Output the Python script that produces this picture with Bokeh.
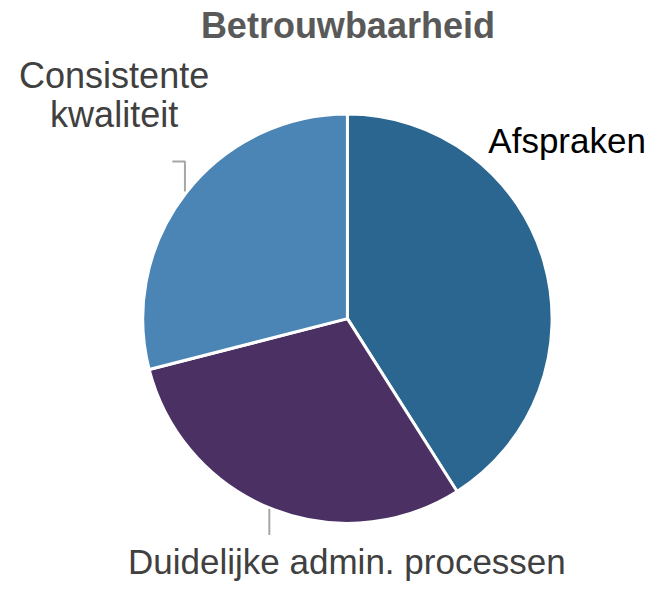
import numpy as np
from bokeh.plotting import figure
from bokeh.models import Range1d, ColumnDataSource
from bokeh.core.properties import value
from bokeh.embed import file_html
from bokeh.resources import INLINE

title = "Betrouwbaarheid"
categories = ["Afspraken", "Duidelijke admin. processen", "Consistente kwaliteit"]
values = [41, 30, 29]
colors = ["#2A668F", "#4B3064", "#4A85B6"]

W, H = 656, 582
S = 0.97  # layout scale so the whole fits the window

def X(ix):
    return W / 2 + (ix - 336) * S

def Y(iy):
    return H - (H / 2 + (iy - 299) * S)

p = figure(width=W, height=H, output_backend="svg", toolbar_location=None,
           x_range=Range1d(0, W), y_range=Range1d(0, H), min_border=0,
           match_aspect=False)
p.axis.visible = False
p.grid.visible = False
p.outline_line_color = None
p.background_fill_color = "white"
p.border_fill_color = "white"

cx, cy, r = X(355.5), Y(327), 211 * S
vals = np.array(values, dtype=float)
frac = vals / vals.sum()
ends = np.pi / 2 - np.concatenate([[0], np.cumsum(frac)[:-1]]) * 2 * np.pi
starts = ends - frac * 2 * np.pi
src = ColumnDataSource(dict(start=starts, end=ends, color=colors, cat=categories))
p.wedge(x=cx, y=cy, radius=r, start_angle="start", end_angle="end",
        fill_color="color", line_color="white", line_width=3, source=src)

# leader lines
p.line([X(175), X(188), X(188)], [Y(165), Y(165), Y(196)], line_color="#A6A6A6", line_width=2)
p.line([X(275), X(275)], [Y(523), Y(550)], line_color="#A6A6A6", line_width=2)

font = value("Liberation Sans")
fs = "35px"
p.text(x=[X(356)], y=[Y(25)], text=[title], text_font=font, text_font_size="36px",
       text_font_style="bold", text_color="#595959", text_align="center",
       text_baseline="middle")
p.text(x=[X(582)], y=[Y(143.5)], text=[categories[0]], text_font=font, text_font_size=fs,
       text_color="#000000", text_align="center", text_baseline="middle")
p.text(x=[X(355)], y=[Y(577)], text=[categories[1]], text_font=font, text_font_size=fs,
       text_color="#404040", text_align="center", text_baseline="middle")
cons = categories[2].split(" ")
p.text(x=[X(115), X(115)], y=[Y(76.5), Y(117)], text=cons, text_font=font,
       text_font_size="36px", text_color="#404040", text_align="center",
       text_baseline="middle")

open("out.html", "w").write(file_html(p, INLINE))
